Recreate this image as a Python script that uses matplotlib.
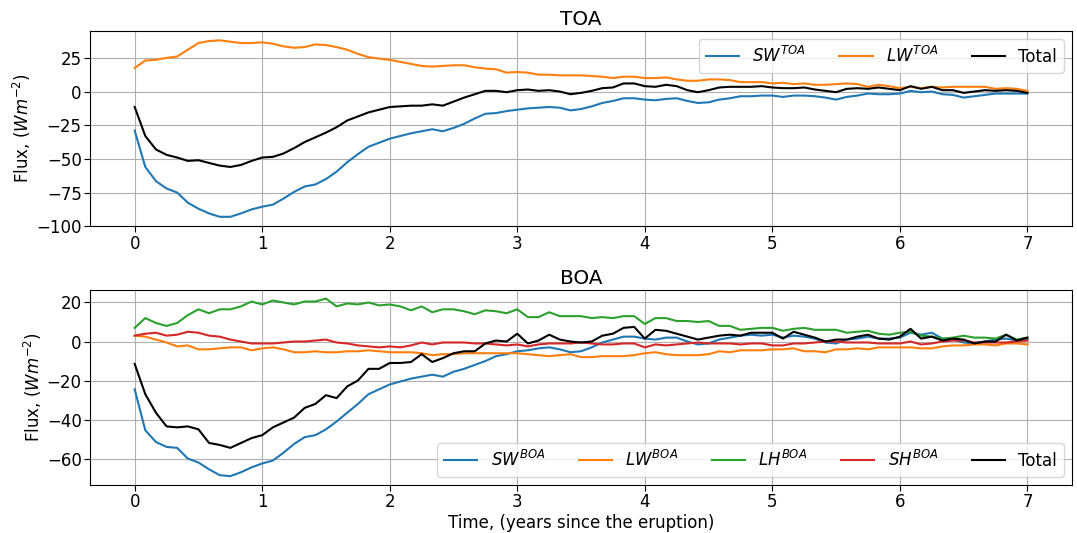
import numpy as np
import matplotlib
matplotlib.use("Agg")
import matplotlib.pyplot as plt
from matplotlib.ticker import MultipleLocator

plt.rcParams['font.size'] = 12

# monthly anomalies, 7 years after the eruption
months = np.arange(85)
time = months / 12.0

sw_toa = [-29, -56, -66.5, -72, -75, -82.5, -87, -90.5, -93, -93, -90.5, -87.5,
          -85.5, -84, -79.5, -74.5, -70.5, -69, -65, -59.5, -52.5, -46.5, -41, -38,
          -35, -33, -31, -29.5, -28, -29.5, -27, -24, -20, -16.5, -16, -14.5,
          -13.5, -12.5, -12, -11.5, -12, -14, -13, -11, -8.5, -7, -5, -5,
          -6, -6.5, -5.5, -5, -7, -8.5, -8, -6, -5, -3.5, -3.5, -3,
          -3, -4, -3, -3, -3.5, -4.5, -6, -4, -3, -1.5, -2, -2,
          -1.5, 0.5, -0.5, 0, -2, -2.5, -4.5, -3.5, -2.5, -1.5, -1.5, -1.5,
          -1.5]
lw_toa = [17.5, 23, 23.5, 25, 26, 31, 36, 37.5, 38, 37, 36, 36,
          36.5, 35.5, 33.5, 32.5, 33, 35, 34.5, 33, 31, 28, 25.5, 24.5,
          23.5, 22, 20.5, 19, 18.5, 19, 19.5, 19.5, 18, 17, 16.5, 14,
          14.5, 14, 12.5, 12.5, 12, 12, 12, 11.5, 11, 10, 11, 11,
          10, 10, 10.5, 9, 8, 8, 9, 9, 8.5, 7, 7, 7,
          6, 6.5, 5.5, 6, 5, 5, 5.5, 6, 5.5, 3.5, 5, 4,
          2.5, 3.5, 2.5, 3.5, 3, 3.5, 3.5, 3.5, 3.5, 2, 2.5, 2,
          0.5]
total_toa = [-11.5, -33, -43, -47, -49, -51.5, -51, -53, -55, -56, -54.5, -51.5,
             -49, -48.5, -46, -42, -37.5, -34, -30.5, -26.5, -21.5, -18.5, -15.5, -13.5,
             -11.5, -11, -10.5, -10.5, -9.5, -10.5, -7.5, -4.5, -2, 0.5, 0.5, -0.5,
             1, 1.5, 0.5, 1, 0, -2, -1, 0.5, 2.5, 3, 6, 6,
             4, 3.5, 5, 4, 1, -0.5, 1, 3, 3.5, 3.5, 3.5, 4,
             3, 2.5, 2.5, 3, 1.5, 0.5, -0.5, 2, 2.5, 2, 3, 2,
             1, 4, 2, 3.5, 1, 1, -1, 0, 1, 0.5, 1, 0.5,
             -1]

sw_boa = [-24.5, -45.5, -51.5, -54, -54.5, -60, -62, -65.5, -68.5, -69, -67, -64.5,
          -62.5, -61, -57, -52.5, -49, -48, -45, -41, -36.5, -32, -27, -24.5,
          -22, -20.5, -19, -18, -17, -18, -15.5, -14, -12, -10, -7.5, -6.5,
          -5, -4.5, -3.5, -3, -4, -5.5, -5, -3, -0.5, 1, 2.5, 2.5,
          1.5, 1, 2, 2, 0, -1.5, -1, 1, 2, 3, 3.5, 3,
          3.5, 2, 3, 2.5, 1.5, -0.5, -1, 1, 1.5, 2.5, 1.5, 1.5,
          2, 4.5, 3.5, 4.5, 1.5, 1, -0.5, -1, 0, 1, 1.5, 0.5,
          1]
lw_boa = [3, 2.5, 1, -0.5, -2.5, -2, -4, -4, -3.5, -3, -3, -4.5,
          -3.5, -3, -4, -5.5, -5.5, -5, -5.5, -5.5, -5, -5, -4.5, -5,
          -5.5, -5.5, -5.5, -6, -7, -6.5, -6.5, -6, -6, -6, -6, -6,
          -6, -6.5, -7, -7.5, -7, -6.5, -8, -8, -7.5, -7.5, -7.5, -7,
          -6, -5.5, -6.5, -7, -7, -7, -6.5, -5, -5.5, -4.5, -4.5, -4.5,
          -4, -4, -3.5, -5, -5, -5.5, -4, -4, -3.5, -4, -3, -3,
          -3, -3, -3.5, -3.5, -2.5, -2, -2, -1.5, -1.5, -2, -1, -1,
          -1.5]
lh_boa = [7, 12, 9.5, 8, 9.5, 13.5, 16.5, 14.5, 16.5, 16.5, 18, 20.5,
          19, 21, 20, 19, 20.5, 20.5, 22, 18, 19.5, 19, 20, 18.5,
          19, 18, 16, 18, 15, 16.5, 16.5, 15.5, 14, 16, 15.5, 14.5,
          16.5, 12.5, 12.5, 15, 13, 13, 13, 12, 12.5, 12, 13, 13,
          9, 12, 12, 10.5, 10.5, 10, 10.5, 8, 8, 6, 6.5, 7,
          7, 5.5, 6.5, 7, 6, 6, 6, 4.5, 5, 5.5, 4, 3.5,
          4.5, 5, 3, 2.5, 1.5, 2, 3, 2, 2, 1.5, 3.5, 1,
          2]
sh_boa = [3, 4, 4.5, 3, 3.5, 5, 4.5, 3, 2.5, 1, 0, -1,
          -1, -1, -0.5, 0, 0, 0.5, 1, -0.5, -1, -2, -2.5, -3,
          -2.5, -3, -2, -0.5, -1.5, -0.5, -0.5, -0.5, -1, -1, -1.5, -2,
          -1.5, -2.5, -1.5, -1, -1, -1, -0.5, -1, -1.5, -1.5, -1, -1,
          -3, -1.5, -2, -1.5, -1, -0.5, -1, -1, -1, -1.5, -1, -1,
          -2, -2, -1, -1, -0.5, 0, 0, -0.5, -0.5, -0.5, -1, -1,
          -1, 0, -1.5, -1, 0, 0.5, 0.5, -0.5, -0.5, -0.5, -0.5, 0,
          0.5]
total_boa = [-11.5, -27, -36.5, -43.5, -44, -43.5, -45, -52, -53, -54.5, -52, -49.5,
             -48, -44, -41.5, -39, -34, -32, -27.5, -29, -23, -20, -14, -14,
             -11, -11, -10.5, -6.5, -10.5, -8.5, -6, -5, -5, -1, 0.5, 0,
             4, -1, 0.5, 3.5, 1, 0, -0.5, 0, 3, 4, 7, 7.5,
             1.5, 6, 5.5, 4, 2.5, 1, 2, 3, 3.5, 3, 4.5, 4.5,
             4.5, 1.5, 5, 3.5, 2, 0, 1, 1, 2.5, 3.5, 1.5, 1,
             2.5, 6.5, 1.5, 2.5, 0.5, 1.5, 1, -1, 0, 0, 3.5, 0.5,
             2]

fig, (ax1, ax2) = plt.subplots(2, 1, figsize=(10.77, 5.33), dpi=100)
fig.subplots_adjust(left=0.0836, right=0.9954, top=0.942, bottom=0.09, hspace=0.325)

ax1.plot(time, sw_toa, label='$SW^{TOA}$')
ax1.plot(time, lw_toa, label='$LW^{TOA}$')
ax1.plot(time, total_toa, 'k', label='Total')
ax1.set_title('TOA', pad=4)
ax1.set_ylabel('Flux, $(Wm^{-2})$', labelpad=2)
ax1.set_ylim(-100, 45)
ax1.yaxis.set_major_locator(MultipleLocator(25))
ax1.grid(True)
ax1.legend(ncol=3, loc='upper right')

ax2.plot(time, sw_boa, label='$SW^{BOA}$')
ax2.plot(time, lw_boa, label='$LW^{BOA}$')
ax2.plot(time, lh_boa, label='$LH^{BOA}$')
ax2.plot(time, sh_boa, label='$SH^{BOA}$')
ax2.plot(time, total_boa, 'k', label='Total')
ax2.set_title('BOA', pad=4)
ax2.set_ylabel('Flux, $(Wm^{-2})$', labelpad=2)
ax2.set_xlabel('Time, (years since the eruption)', labelpad=2)
ax2.yaxis.set_major_locator(MultipleLocator(20))
ax2.grid(True)
ax2.legend(ncol=5, loc='lower right')

for ax in (ax1, ax2):
    ax.tick_params(length=4, pad=2)

fig.savefig('out.png', dpi=100)
